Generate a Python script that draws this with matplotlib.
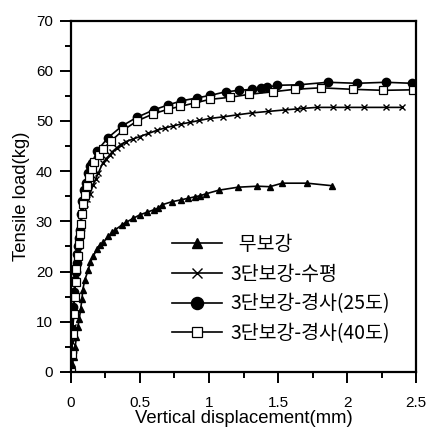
import matplotlib
matplotlib.use("Agg")
import matplotlib.pyplot as plt
from matplotlib.ticker import MultipleLocator

# 무보강 (unreinforced)
x_none = [0, 0.01, 0.02, 0.03, 0.04, 0.05, 0.06, 0.07, 0.08, 0.085, 0.10, 0.125, 0.14, 0.16, 0.19,
          0.21, 0.234, 0.27, 0.30, 0.32, 0.37, 0.40, 0.45, 0.50, 0.55, 0.60, 0.63, 0.66, 0.73,
          0.80, 0.85, 0.90, 0.935, 0.98, 1.07, 1.21, 1.35, 1.44, 1.53, 1.71, 1.89]
y_none = [0, 1.5, 3, 5, 7, 9, 10.5, 12.5, 14.5, 16.3, 18.3, 20.3, 21.8, 23.0, 24.5,
          25.3, 25.8, 27.0, 27.8, 28.3, 29.3, 29.8, 30.6, 31.3, 31.8, 32.3, 32.6, 33.3, 33.9,
          34.3, 34.6, 34.9, 35.1, 35.5, 36.2, 36.8, 37.0, 36.9, 37.6, 37.6, 37.1]

# 3단보강-수평
x_hor = [0, 0.005, 0.01, 0.015, 0.02, 0.025, 0.03, 0.04, 0.05, 0.06, 0.07, 0.085, 0.10, 0.118,
         0.138, 0.16, 0.18, 0.198, 0.23, 0.255, 0.28, 0.30, 0.33, 0.36, 0.40, 0.45, 0.50, 0.56,
         0.62, 0.68, 0.74, 0.80, 0.86, 0.93, 1.007, 1.10, 1.20, 1.31, 1.43, 1.55, 1.64, 1.68,
         1.78, 1.90, 2.00, 2.12, 2.28, 2.40]
y_hor = [0, 3, 6, 9, 12, 15, 18, 21, 24, 27, 29.5, 32, 33.5, 34.5,
         35.5, 37.2, 38.5, 39.6, 41.6, 42.5, 43.2, 43.9, 44.6, 45.3, 45.9, 46.4, 46.9, 47.5,
         48.1, 48.6, 49.0, 49.4, 49.7, 50.1, 50.5, 50.8, 51.2, 51.6, 51.9, 52.2, 52.4, 52.5,
         52.7, 52.7, 52.7, 52.7, 52.7, 52.7]

# 3단보강-경사(25도)
x_25 = [0, 0.005, 0.01, 0.017, 0.023, 0.029, 0.035, 0.041, 0.047, 0.053, 0.059, 0.065, 0.07,
        0.078, 0.094, 0.109, 0.121, 0.138, 0.154, 0.19, 0.27, 0.37, 0.476, 0.60, 0.705, 0.80,
        0.915, 1.01, 1.12, 1.22, 1.31, 1.38, 1.42, 1.49, 1.65, 1.86, 2.07, 2.28, 2.47]
y_25 = [0, 4, 8.5, 13, 16, 18.3, 20, 21.7, 23.5, 25, 26.7, 28.3, 31.5,
        34.0, 36.3, 37.7, 39.6, 41.0, 41.7, 44.1, 46.7, 49.0, 50.7, 52.2, 53.2, 54.0,
        54.6, 55.1, 55.8, 56.1, 56.3, 56.5, 56.7, 57.1, 57.2, 57.7, 57.5, 57.7, 57.5]

# 3단보강-경사(40도)
x_40 = [0, 0.006, 0.012, 0.019, 0.026, 0.033, 0.04, 0.048, 0.056, 0.064, 0.072, 0.08, 0.09,
        0.10, 0.115, 0.13, 0.15, 0.17, 0.20, 0.234, 0.29, 0.38, 0.48, 0.595, 0.70, 0.79, 0.90,
        1.007, 1.15, 1.29, 1.46, 1.62, 1.81, 2.04, 2.26, 2.48]
y_40 = [0, 3.5, 7.5, 11.5, 15, 18, 20.5, 23, 25.5, 27.5, 29.5, 31.5, 33.5,
        35.2, 37, 38.8, 40.5, 41.8, 43.3, 44.4, 46.0, 48.2, 50.0, 51.4, 52.3, 52.9, 53.6,
        54.3, 54.7, 55.3, 55.8, 56.3, 56.6, 56.3, 56.1, 56.2]

labels = ["  무보강", "3단보강-수평", "3단보강-경사(25도)", "3단보강-경사(40도)"]
x_ticks = [0, 0.5, 1, 1.5, 2, 2.5]
x_tick_labels = ["0", "0.5", "1", "1.5", "2", "2.5"]
y_ticks = [0, 10, 20, 30, 40, 50, 60, 70]

plt.rcParams['font.family'] = ['Liberation Sans', 'DejaVu Sans']
plt.rcParams['xtick.labelsize'] = 11
plt.rcParams['ytick.labelsize'] = 11

fig = plt.figure(figsize=(4.38, 4.28), dpi=100)
ax = fig.add_axes([0.162, 0.131, 0.788, 0.821])

lw = 1.2
ax.plot(x_none, y_none, color='black', lw=lw, marker='^', ms=5, mfc='black', mec='black', label=labels[0])
ax.plot(x_hor, y_hor, color='black', lw=lw, marker='x', ms=5, mew=1.0, label=labels[1])
ax.plot(x_25, y_25, color='black', lw=lw, marker='o', ms=6, mfc='black', mec='black', label=labels[2])
ax.plot(x_40, y_40, color='black', lw=lw, marker='s', ms=5.2, mfc='white', mec='black', mew=0.9, label=labels[3])

ax.set_xlim(0, 2.5)
ax.set_ylim(0, 70)
ax.set_xticks(x_ticks)
ax.set_xticklabels(x_tick_labels, fontsize=11)
ax.set_yticks(y_ticks)
ax.xaxis.set_minor_locator(MultipleLocator(0.25))
ax.yaxis.set_minor_locator(MultipleLocator(5))
ax.tick_params(which='both', direction='out', top=False, right=False, width=1.4)
ax.tick_params(which='major', length=8)
ax.tick_params(which='minor', length=4.3)
ax.tick_params(axis='x', which='major', pad=9)
ax.tick_params(axis='y', which='major', pad=5)
for sp in ax.spines.values():
    sp.set_linewidth(1.6)

ax.set_xlabel("Vertical displacement(mm)", fontsize=13.3, labelpad=0)
ax.set_ylabel("Tensile load(kg)", fontsize=13.3, labelpad=4)

leg = ax.legend(loc='upper left', bbox_to_anchor=(0.293, 0.393), frameon=False,
                handlelength=2.57, handletextpad=0.41, labelspacing=0.45, markerscale=1.45,
                borderpad=0, borderaxespad=0,
                prop={'family': ['Noto Sans CJK KR', 'DejaVu Sans'], 'size': 14})

fig.savefig("out.png", dpi=100)
